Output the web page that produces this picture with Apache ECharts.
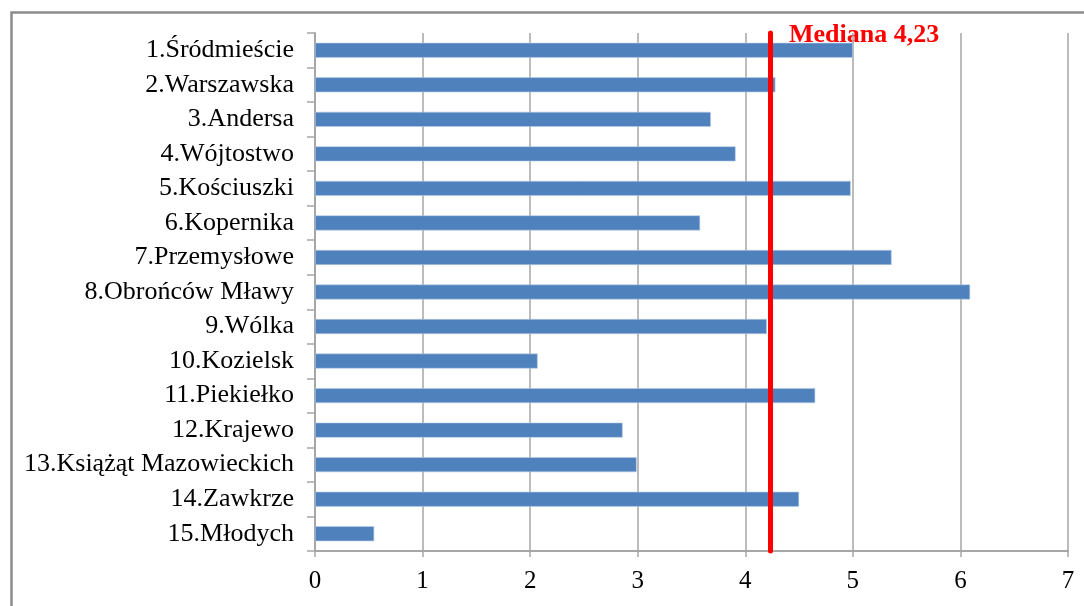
<!DOCTYPE html>
<html>
<head>
<meta charset="utf-8">
<script src="https://cdn.jsdelivr.net/npm/echarts@6/dist/echarts.min.js"></script>
<style>
html,body{margin:0;padding:0;background:#fff;}
#chart{width:1084px;height:606px;}
</style>
</head>
<body>
<div id="chart"></div>
<script>
var categories = ['1.Śródmieście','2.Warszawska','3.Andersa','4.Wójtostwo','5.Kościuszki','6.Kopernika','7.Przemysłowe','8.Obrońców Mławy','9.Wólka','10.Kozielsk','11.Piekiełko','12.Krajewo','13.Książąt Mazowieckich','14.Zawkrze','15.Młodych'];
var values = [5.0, 4.28, 3.68, 3.91, 4.98, 3.58, 5.36, 6.09, 4.20, 2.07, 4.65, 2.86, 2.99, 4.50, 0.55];
var median = 4.23;
var medianLabel = 'Mediana 4,23';
var xTicks = [0, 7, 1];

var chart = echarts.init(document.getElementById('chart'));
var serif = '"Liberation Serif", "Times New Roman", serif';
var option = {
  animation: false,
  backgroundColor: '#fff',
  grid: {left: 315, right: 16, top: 33, bottom: 55, containLabel: false},
  xAxis: {
    type: 'value', min: xTicks[0], max: xTicks[1], interval: xTicks[2],
    axisLine: {show: true, lineStyle: {color: '#a6a6a6', width: 2}},
    axisTick: {show: true, length: 6, lineStyle: {color: '#a6a6a6', width: 1.5}},
    axisLabel: {color: '#000', fontFamily: serif, fontSize: 25, margin: 18},
    splitLine: {show: true, lineStyle: {color: '#a6a6a6', width: 1.5}}
  },
  yAxis: {
    type: 'category', data: categories, inverse: true,
    axisLine: {show: true, lineStyle: {color: '#a6a6a6', width: 2}},
    axisTick: {show: true, length: 8, lineStyle: {color: '#a6a6a6', width: 1.5}},
    axisLabel: {color: '#000', fontFamily: serif, fontSize: 26, margin: 21},
    splitLine: {show: false}
  },
  series: [{
    type: 'bar', data: values, barWidth: 15,
    itemStyle: {color: '#4F81BD', borderColor: '#b9cde5', borderWidth: 0.6},
    markLine: {
      silent: true, symbol: ['none','none'],
      lineStyle: {color: '#ff0000', width: 5, type: 'solid', cap: 'round'},
      label: {show: false},
      data: [{xAxis: median}]
    }
  }],
  graphic: [{
    type: 'rect', left: 9, top: 10, shape: {width: 1200, height: 800}, silent: true,
    style: {fill: 'none', stroke: '#8c8c8c', lineWidth: 2.5}
  }]
};
chart.setOption(option);
var p = chart.convertToPixel({xAxisIndex: 0, yAxisIndex: 0}, [median, 0]);
chart.setOption({graphic: [{}, {
  type: 'text', x: p[0] + 19, y: 35, silent: true,
  style: {text: medianLabel, fill: '#ff0000', font: 'bold 26px ' + serif, textVerticalAlign: 'middle', verticalAlign: 'middle'}
}]});
</script>
</body>
</html>
